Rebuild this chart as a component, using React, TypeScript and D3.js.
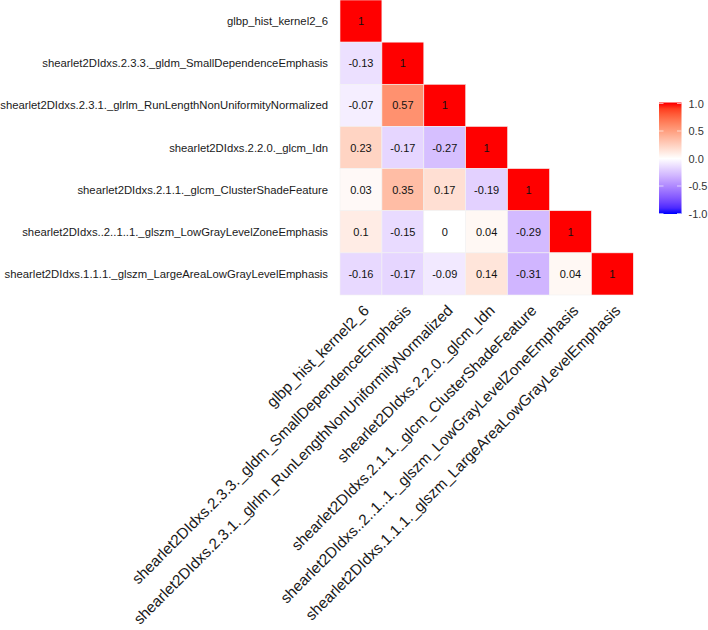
import React from "react";
import * as d3 from "d3";

const variables = [
  "glbp_hist_kernel2_6",
  "shearlet2DIdxs.2.3.3._gldm_SmallDependenceEmphasis",
  "shearlet2DIdxs.2.3.1._glrlm_RunLengthNonUniformityNormalized",
  "shearlet2DIdxs.2.2.0._glcm_Idn",
  "shearlet2DIdxs.2.1.1._glcm_ClusterShadeFeature",
  "shearlet2DIdxs..2..1..1._glszm_LowGrayLevelZoneEmphasis",
  "shearlet2DIdxs.1.1.1._glszm_LargeAreaLowGrayLevelEmphasis",
];

// lower-triangle correlation rows (row i has i+1 values)
const row0 = [1];
const row1 = [-0.13, 1];
const row2 = [-0.07, 0.57, 1];
const row3 = [0.23, -0.17, -0.27, 1];
const row4 = [0.03, 0.35, 0.17, -0.19, 1];
const row5 = [0.1, -0.15, 0, 0.04, -0.29, 1];
const row6 = [-0.16, -0.17, -0.09, 0.14, -0.31, 0.04, 1];
const corrRows = [row0, row1, row2, row3, row4, row5, row6];

const legendTicks = [1.0, 0.5, 0.0, -0.5, -1.0];

const W = 708;
const H = 630;

export default function App() {
  const x = d3.scaleBand<string>().domain(variables).range([340, 633.3]).padding(0);
  const y = d3.scaleBand<string>().domain(variables).range([0, 295]).padding(0);

  const color = d3
    .scaleLinear<string>()
    .domain([-1, 0, 1])
    .range(["#0000FF", "#FFFFFF", "#FF0000"])
    .interpolate(d3.interpolateLab);

  const cells: { r: string; c: string; v: number }[] = [];
  corrRows.forEach((vals, i) => {
    vals.forEach((v, j) => {
      cells.push({ r: variables[i], c: variables[j], v });
    });
  });

  const legY = d3.scaleLinear().domain([-1, 1]).range([213.5, 103.5]);
  const barX = 659;
  const barW = 22.5;
  const barTop = 102.5;
  const barBot = 214;
  const gradStops = d3.range(0, 21).map((k) => {
    const v = 1 - k / 10;
    const yy = legY(v);
    return { off: (yy - barTop) / (barBot - barTop), col: color(v) };
  });

  const fmt = (v: number) => {
    if (v === 1) return "1";
    if (v === 0) return "0";
    return String(v);
  };

  return (
    <svg
      width={W}
      height={H}
      style={{ position: "absolute", left: 0, top: 0, background: "#fff" }}
      fontFamily="'Liberation Sans', Arial, sans-serif"
    >
      <defs>
        <linearGradient id="legGrad" x1="0" y1="0" x2="0" y2="1">
          {gradStops.map((s, i) => (
            <stop key={i} offset={Math.max(0, Math.min(1, s.off))} stopColor={s.col} />
          ))}
        </linearGradient>
      </defs>
      {cells.map((d, i) => (
        <g key={i}>
          <rect
            x={x(d.c)}
            y={y(d.r)}
            width={x.bandwidth()}
            height={y.bandwidth()}
            fill={color(d.v)}
            stroke="#f2f2f2"
            strokeWidth={0.6}
          />
          <text
            x={(x(d.c) as number) + x.bandwidth() / 2}
            y={(y(d.r) as number) + y.bandwidth() / 2}
            textAnchor="middle"
            dominantBaseline="central"
            fontSize={11}
            fill="#111"
          >
            {fmt(d.v)}
          </text>
        </g>
      ))}
      {variables.map((v) => (
        <text
          key={"y" + v}
          x={328}
          y={(y(v) as number) + y.bandwidth() / 2}
          textAnchor="end"
          dominantBaseline="central"
          fontSize={11.3}
          fill="#1a1a1a"
        >
          {v}
        </text>
      ))}
      {variables.map((v) => {
        const cx = (x(v) as number) + x.bandwidth() / 2;
        return (
          <text
            key={"x" + v}
            transform={`translate(${cx + 9},${311.5}) rotate(-45)`}
            textAnchor="end"
            fontSize={15.3}
            fill="#1a1a1a"
          >
            {v}
          </text>
        );
      })}
      <rect x={barX} y={barTop} width={barW} height={barBot - barTop} fill="url(#legGrad)" />
      {legendTicks.map((t) => (
        <g key={"t" + t}>
          <line x1={barX} x2={barX + 4.5} y1={legY(t)} y2={legY(t)} stroke="#fff" strokeWidth={0.8} opacity={0.8} />
          <line x1={barX + barW - 4.5} x2={barX + barW} y1={legY(t)} y2={legY(t)} stroke="#fff" strokeWidth={0.8} opacity={0.8} />
          <text x={688.5} y={legY(t)} dominantBaseline="central" fontSize={11} fill="#333">
            {t.toFixed(1)}
          </text>
        </g>
      ))}
    </svg>
  );
}
